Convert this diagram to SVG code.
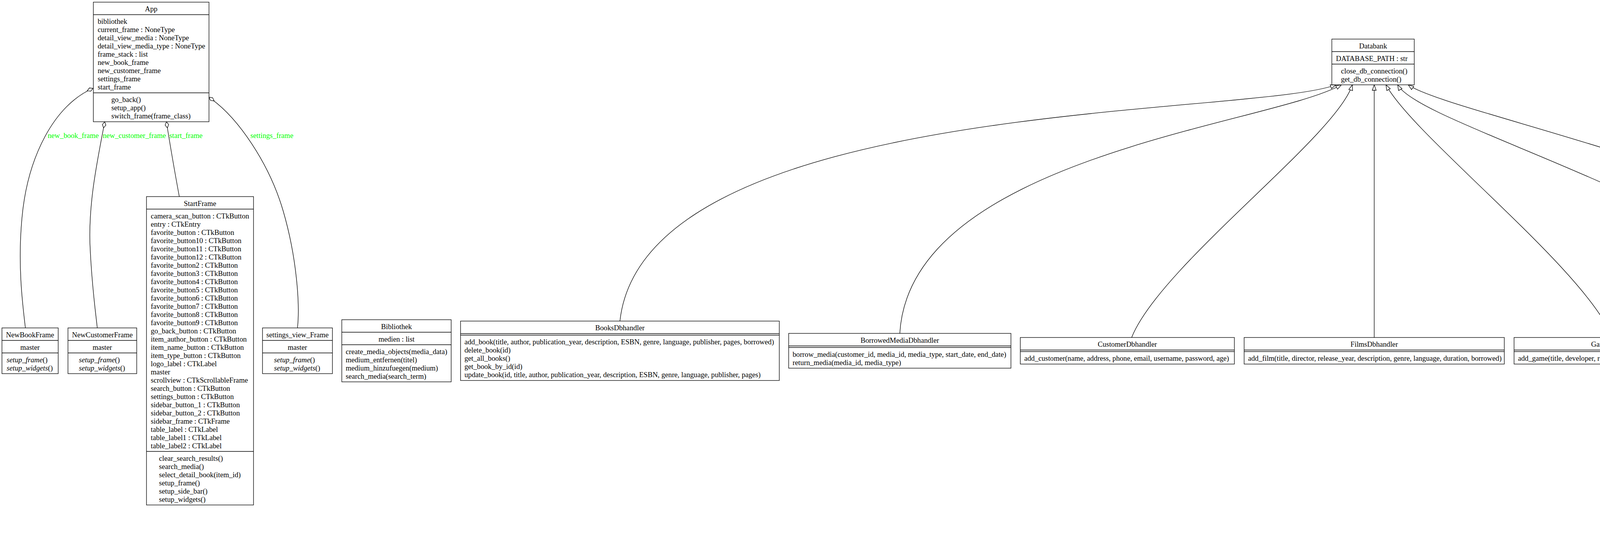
<svg xmlns="http://www.w3.org/2000/svg" width="6336" height="1420" viewBox="0 0 6336 1420">
<style>
.n{fill:#fff;stroke:#000;stroke-width:1.33}
.d{stroke:#000;stroke-width:1.33}
.t{font-family:"Liberation Serif","Times New Roman",serif;font-size:18.67px;fill:#000}
.h{text-anchor:middle}
.i{font-style:italic}
.e{fill:none;stroke:#000;stroke-width:1.33}
.l{font-family:"Liberation Serif","Times New Roman",serif;font-size:18.67px;fill:#00ff00;text-anchor:middle}
</style>
<defs>
<marker id="tri" markerUnits="userSpaceOnUse" markerWidth="16" markerHeight="12" refX="14" refY="5" orient="auto" overflow="visible"><path d="M0,0 L14,5 L0,10 z" fill="#fff" stroke="#000" stroke-width="1.33"/></marker>
<marker id="dia" markerUnits="userSpaceOnUse" markerWidth="20" markerHeight="12" refX="0" refY="4.5" orient="auto" overflow="visible"><path d="M0,4.5 L8,0 L16,4.5 L8,9 z" fill="#fff" stroke="#000" stroke-width="1.33"/></marker>
</defs>
<rect x="0" y="0" width="6336" height="1420" fill="#fff"/>

<g id="edges">
<path class="e" marker-start="url(#dia)" d="M238,226 C140,268 70,400 56,560 C45,680 58,780 65,839"/>
<path class="e" marker-start="url(#dia)" d="M268,311.5 C252,400 224,520 231,640 C236,740 245,800 249,839"/>
<path class="e" marker-start="url(#dia)" d="M426,311.5 Q440,400 459,503"/>
<path class="e" marker-start="url(#dia)" d="M535,249 C610,300 690,420 725,540 C760,660 768,780 761.5,839"/>
<text class="l" x="187.5" y="353">new_book_frame</text>
<text class="l" x="344" y="353">new_customer_frame</text>
<text class="l" x="476" y="353">start_frame</text>
<text class="l" x="696" y="353">settings_frame</text>
<path class="e" marker-end="url(#tri)" d="M1587,821.5 C1650,250 3200,300 3420,217"/>
<path class="e" marker-end="url(#tri)" d="M2303.5,853 C2330,400 3250,320 3434,217"/>
<path class="e" marker-end="url(#tri)" d="M2897,863.5 C2970,680 3420,350 3462,217"/>
<path class="e" marker-end="url(#tri)" d="M3518,863.5 L3518,217"/>
<path class="e" marker-end="url(#tri)" d="M4128,863.5 C4060,690 3620,350 3548,217"/>
<path class="e" marker-end="url(#tri)" d="M4583,853 C4575,560 3640,330 3578,217"/>
<path class="e" marker-end="url(#tri)" d="M4908,853 C4900,520 3720,300 3605,217"/>
<path class="e" marker-end="url(#tri)" d="M5172.5,828.5 C5185,600 5300,420 5318,301"/>
<path class="e" marker-end="url(#tri)" d="M5387,818 L5387,301"/>
<path class="e" marker-end="url(#tri)" d="M5608.5,828.5 C5600,600 5475,420 5458,301"/>
</g>

<g id="App">
<rect class="n" x="239" y="5.5" width="296" height="306"/>
<line class="d" x1="239" y1="37.5" x2="535" y2="37.5"/>
<line class="d" x1="239" y1="237.5" x2="535" y2="237.5"/>
<text class="t h" x="387" y="29">App</text>
<text class="t" x="250" y="61"><tspan x="250">bibliothek</tspan><tspan x="250" dy="21">current_frame : NoneType</tspan><tspan x="250" dy="21">detail_view_media : NoneType</tspan><tspan x="250" dy="21">detail_view_media_type : NoneType</tspan><tspan x="250" dy="21">frame_stack : list</tspan><tspan x="250" dy="21">new_book_frame</tspan><tspan x="250" dy="21">new_customer_frame</tspan><tspan x="250" dy="21">settings_frame</tspan><tspan x="250" dy="21">start_frame</tspan></text>
<text class="t" x="285" y="261"><tspan x="285">go_back()</tspan><tspan x="285" dy="21">setup_app()</tspan><tspan x="285" dy="21">switch_frame(frame_class)</tspan></text>
</g>

<g id="Databank">
<rect class="n" x="3409.5" y="100" width="211" height="117"/>
<line class="d" x1="3409.5" y1="132" x2="3620.5" y2="132"/>
<line class="d" x1="3409.5" y1="164" x2="3620.5" y2="164"/>
<text class="t h" x="3515" y="123.5">Databank</text>
<text class="t" x="3420" y="155.5">DATABASE_PATH : str</text>
<text class="t" x="3433" y="187.5"><tspan x="3433">close_db_connection()</tspan><tspan x="3433" dy="21">get_db_connection()</tspan></text>
</g>

<g id="Medien">
<rect class="n" x="5251" y="16" width="273" height="285"/>
<line class="d" x1="5251" y1="48" x2="5524" y2="48"/>
<line class="d" x1="5251" y1="248" x2="5524" y2="248"/>
<text class="t h" x="5387.5" y="39.5">Medien</text>
<text class="t" x="5262" y="71.5"><tspan x="5262">autor_oder_regisseur : NoneType</tspan><tspan x="5262" dy="21">borrowed : NoneType, bool</tspan><tspan x="5262" dy="21">category : NoneType</tspan><tspan x="5262" dy="21">description : NoneType</tspan><tspan x="5262" dy="21">genre : NoneType</tspan><tspan x="5262" dy="21">id</tspan><tspan x="5262" dy="21">language : NoneType</tspan><tspan x="5262" dy="21">publication_year : NoneType</tspan><tspan x="5262" dy="21">titel</tspan></text>
<text class="t" x="5329" y="271.5"><tspan x="5329">ausleihen()</tspan><tspan x="5329" dy="21">zurueckgeben()</tspan></text>
</g>

<g id="NewBookFrame">
<rect class="n" x="5" y="839" width="144" height="117"/>
<line class="d" x1="5" y1="871" x2="149" y2="871"/>
<line class="d" x1="5" y1="903" x2="149" y2="903"/>
<text class="t h" x="77" y="862.5">NewBookFrame</text>
<text class="t" x="52" y="894.5">master</text>
<text class="t" x="17" y="926.5"><tspan class="i">setup_frame</tspan>()</text>
<text class="t" x="17" y="947.5"><tspan class="i">setup_widgets</tspan>()</text>
</g>

<g id="NewCustomerFrame">
<rect class="n" x="174" y="839" width="176" height="117"/>
<line class="d" x1="174" y1="871" x2="350" y2="871"/>
<line class="d" x1="174" y1="903" x2="350" y2="903"/>
<text class="t h" x="262" y="862.5">NewCustomerFrame</text>
<text class="t" x="237" y="894.5">master</text>
<text class="t" x="202" y="926.5"><tspan class="i">setup_frame</tspan>()</text>
<text class="t" x="202" y="947.5"><tspan class="i">setup_widgets</tspan>()</text>
</g>

<g id="StartFrame">
<rect class="n" x="375" y="503" width="274" height="789"/>
<line class="d" x1="375" y1="535" x2="649" y2="535"/>
<line class="d" x1="375" y1="1155" x2="649" y2="1155"/>
<text class="t h" x="512" y="526.5">StartFrame</text>
<text class="t" x="386" y="558.5"><tspan x="386">camera_scan_button : CTkButton</tspan><tspan x="386" dy="21">entry : CTkEntry</tspan><tspan x="386" dy="21">favorite_button : CTkButton</tspan><tspan x="386" dy="21">favorite_button10 : CTkButton</tspan><tspan x="386" dy="21">favorite_button11 : CTkButton</tspan><tspan x="386" dy="21">favorite_button12 : CTkButton</tspan><tspan x="386" dy="21">favorite_button2 : CTkButton</tspan><tspan x="386" dy="21">favorite_button3 : CTkButton</tspan><tspan x="386" dy="21">favorite_button4 : CTkButton</tspan><tspan x="386" dy="21">favorite_button5 : CTkButton</tspan><tspan x="386" dy="21">favorite_button6 : CTkButton</tspan><tspan x="386" dy="21">favorite_button7 : CTkButton</tspan><tspan x="386" dy="21">favorite_button8 : CTkButton</tspan><tspan x="386" dy="21">favorite_button9 : CTkButton</tspan><tspan x="386" dy="21">go_back_button : CTkButton</tspan><tspan x="386" dy="21">item_author_button : CTkButton</tspan><tspan x="386" dy="21">item_name_button : CTkButton</tspan><tspan x="386" dy="21">item_type_button : CTkButton</tspan><tspan x="386" dy="21">logo_label : CTkLabel</tspan><tspan x="386" dy="21">master</tspan><tspan x="386" dy="21">scrollview : CTkScrollableFrame</tspan><tspan x="386" dy="21">search_button : CTkButton</tspan><tspan x="386" dy="21">settings_button : CTkButton</tspan><tspan x="386" dy="21">sidebar_button_1 : CTkButton</tspan><tspan x="386" dy="21">sidebar_button_2 : CTkButton</tspan><tspan x="386" dy="21">sidebar_frame : CTkFrame</tspan><tspan x="386" dy="21">table_label : CTkLabel</tspan><tspan x="386" dy="21">table_label1 : CTkLabel</tspan><tspan x="386" dy="21">table_label2 : CTkLabel</tspan></text>
<text class="t" x="407" y="1178.5"><tspan x="407">clear_search_results()</tspan><tspan x="407" dy="21">search_media()</tspan><tspan x="407" dy="21">select_detail_book(item_id)</tspan><tspan x="407" dy="21">setup_frame()</tspan><tspan x="407" dy="21">setup_side_bar()</tspan><tspan x="407" dy="21">setup_widgets()</tspan></text>
</g>

<g id="settings_view_Frame">
<rect class="n" x="672" y="839" width="179" height="117"/>
<line class="d" x1="672" y1="871" x2="851" y2="871"/>
<line class="d" x1="672" y1="903" x2="851" y2="903"/>
<text class="t h" x="761.5" y="862.5">settings_view_Frame</text>
<text class="t" x="736.5" y="894.5">master</text>
<text class="t" x="701.5" y="926.5"><tspan class="i">setup_frame</tspan>()</text>
<text class="t" x="701.5" y="947.5"><tspan class="i">setup_widgets</tspan>()</text>
</g>

<g id="Bibliothek">
<rect class="n" x="875" y="818" width="280" height="159"/>
<line class="d" x1="875" y1="850" x2="1155" y2="850"/>
<line class="d" x1="875" y1="882" x2="1155" y2="882"/>
<text class="t h" x="1015" y="841.5">Bibliothek</text>
<text class="t" x="969" y="873.5">medien : list</text>
<text class="t" x="885" y="905.5"><tspan x="885">create_media_objects(media_data)</tspan><tspan x="885" dy="21">medium_entfernen(titel)</tspan><tspan x="885" dy="21">medium_hinzufuegen(medium)</tspan><tspan x="885" dy="21">search_media(search_term)</tspan></text>
</g>

<g id="BooksDbhandler">
<rect class="n" x="1179" y="821.5" width="816" height="152"/>
<line class="d" x1="1179" y1="853.5" x2="1995" y2="853.5"/>
<line class="d" x1="1179" y1="857.5" x2="1995" y2="857.5"/>
<text class="t h" x="1587" y="845">BooksDbhandler</text>
<text class="t" x="1189" y="881"><tspan x="1189">add_book(title, author, publication_year, description, ESBN, genre, language, publisher, pages, borrowed)</tspan><tspan x="1189" dy="21">delete_book(id)</tspan><tspan x="1189" dy="21">get_all_books()</tspan><tspan x="1189" dy="21">get_book_by_id(id)</tspan><tspan x="1189" dy="21">update_book(id, title, author, publication_year, description, ESBN, genre, language, publisher, pages)</tspan></text>
</g>

<g id="BorrowedMediaDbhandler">
<rect class="n" x="2019" y="853" width="569" height="89"/>
<line class="d" x1="2019" y1="885" x2="2588" y2="885"/>
<line class="d" x1="2019" y1="889" x2="2588" y2="889"/>
<text class="t h" x="2303.5" y="876.5">BorrowedMediaDbhandler</text>
<text class="t" x="2029" y="912.5"><tspan x="2029">borrow_media(customer_id, media_id, media_type, start_date, end_date)</tspan><tspan x="2029" dy="21">return_media(media_id, media_type)</tspan></text>
</g>

<g id="CustomerDbhandler">
<rect class="n" x="2612" y="863.5" width="548" height="68"/>
<line class="d" x1="2612" y1="895.5" x2="3160" y2="895.5"/>
<line class="d" x1="2612" y1="899.5" x2="3160" y2="899.5"/>
<text class="t h" x="2886" y="887">CustomerDbhandler</text>
<text class="t" x="2622" y="923">add_customer(name, address, phone, email, username, password, age)</text>
</g>

<g id="FilmsDbhandler">
<rect class="n" x="3185" y="863.5" width="666" height="68"/>
<line class="d" x1="3185" y1="895.5" x2="3851" y2="895.5"/>
<line class="d" x1="3185" y1="899.5" x2="3851" y2="899.5"/>
<text class="t h" x="3518" y="887">FilmsDbhandler</text>
<text class="t" x="3195" y="923">add_film(title, director, release_year, description, genre, language, duration, borrowed)</text>
</g>

<g id="GamesDbhandler">
<rect class="n" x="3876" y="863.5" width="525" height="68"/>
<line class="d" x1="3876" y1="895.5" x2="4401" y2="895.5"/>
<line class="d" x1="3876" y1="899.5" x2="4401" y2="899.5"/>
<text class="t h" x="4138.5" y="887">GamesDbhandler</text>
<text class="t" x="3886" y="923">add_game(title, developer, release_year, genre, platform, borrowed)</text>
</g>

<g id="MediaDbhandler">
<rect class="n" x="4426" y="853" width="315" height="89"/>
<line class="d" x1="4426" y1="885" x2="4741" y2="885"/>
<line class="d" x1="4426" y1="889" x2="4741" y2="889"/>
<text class="t h" x="4583.5" y="876.5">MediaDbhandler</text>
<text class="t" x="4436" y="912.5"><tspan x="4436">get_all_media()</tspan><tspan x="4436" dy="21">search_engine_for_media(search_term)</tspan></text>
</g>

<g id="UsersDbhandler">
<rect class="n" x="4765" y="853" width="279" height="89"/>
<line class="d" x1="4765" y1="885" x2="5044" y2="885"/>
<line class="d" x1="4765" y1="889" x2="5044" y2="889"/>
<text class="t h" x="4904.5" y="876.5">UsersDbhandler</text>
<text class="t" x="4775" y="912.5"><tspan x="4775">add_user(username, password)</tspan><tspan x="4775" dy="21">validate_user(username, password)</tspan></text>
</g>

<g id="Buch">
<rect class="n" x="5069" y="828.5" width="207" height="138"/>
<line class="d" x1="5069" y1="860.5" x2="5276" y2="860.5"/>
<line class="d" x1="5069" y1="934.5" x2="5276" y2="934.5"/>
<text class="t h" x="5172.5" y="852">Buch</text>
<text class="t" x="5138" y="884"><tspan x="5138">ESBN</tspan><tspan x="5138" dy="21">pages</tspan><tspan x="5138" dy="21">publisher</tspan></text>
<text class="t" x="5079" y="958">calculate_reading_time()</text>
</g>

<g id="Film">
<rect class="n" x="5299" y="818" width="176" height="159"/>
<line class="d" x1="5299" y1="850" x2="5475" y2="850"/>
<line class="d" x1="5299" y1="924" x2="5475" y2="924"/>
<text class="t h" x="5387" y="841.5">Film</text>
<text class="t" x="5310" y="873.5"><tspan x="5310">actors : NoneType</tspan><tspan x="5310" dy="21">duration : NoneType</tspan><tspan x="5310" dy="21">helpers : NoneType</tspan></text>
<text class="t" x="5338" y="947.5"><tspan x="5338">creditslist()</tspan><tspan x="5338" dy="21">printcredits()</tspan></text>
</g>

<g id="Spiel">
<rect class="n" x="5499" y="828.5" width="219" height="138"/>
<line class="d" x1="5499" y1="860.5" x2="5718" y2="860.5"/>
<line class="d" x1="5499" y1="934.5" x2="5718" y2="934.5"/>
<text class="t h" x="5608.5" y="852">Spiel</text>
<text class="t" x="5542" y="884"><tspan x="5542">average_playtime</tspan><tspan x="5542" dy="21">multiplayer</tspan><tspan x="5542" dy="21">platform</tspan></text>
<text class="t" x="5509" y="958">getrecommendedpcspecs()</text>
</g>

<g id="DetailsFrame">
<rect class="n" x="5747" y="377" width="340" height="1041"/>
<line class="d" x1="5747" y1="409" x2="6087" y2="409"/>
<line class="d" x1="5747" y1="1344" x2="6087" y2="1344"/>
<text class="t h" x="5917" y="400.5">DetailsFrame</text>
<text class="t" x="5758" y="432.5"><tspan x="5758">favorite_button : CTkButton</tspan><tspan x="5758" dy="21">favorite_button10 : CTkButton</tspan><tspan x="5758" dy="21">favorite_button11 : CTkButton</tspan><tspan x="5758" dy="21">favorite_button12 : CTkButton</tspan><tspan x="5758" dy="21">favorite_button2 : CTkButton</tspan><tspan x="5758" dy="21">favorite_button3 : CTkButton</tspan><tspan x="5758" dy="21">favorite_button4 : CTkButton</tspan><tspan x="5758" dy="21">favorite_button5 : CTkButton</tspan><tspan x="5758" dy="21">favorite_button6 : CTkButton</tspan><tspan x="5758" dy="21">favorite_button7 : CTkButton</tspan><tspan x="5758" dy="21">favorite_button8 : CTkButton</tspan><tspan x="5758" dy="21">favorite_button9 : CTkButton</tspan><tspan x="5758" dy="21">frame_title : CTkLabel</tspan><tspan x="5758" dy="21">go_back_button : CTkButton</tspan><tspan x="5758" dy="21">logo_label : CTkLabel</tspan><tspan x="5758" dy="21">master</tspan><tspan x="5758" dy="21">overview_spaceholder : CTkLabel</tspan><tspan x="5758" dy="21">overview_spaceholder1 : CTkLabel</tspan><tspan x="5758" dy="21">overview_spaceholder2 : CTkLabel</tspan><tspan x="5758" dy="21">overview_spaceholder3 : CTkLabel</tspan><tspan x="5758" dy="21">overview_spaceholder4 : CTkLabel</tspan><tspan x="5758" dy="21">overview_tab_author : CTkLabel</tspan><tspan x="5758" dy="21">overview_tab_author_info : CTkLabel</tspan><tspan x="5758" dy="21">overview_tab_bookname : CTkLabel</tspan><tspan x="5758" dy="21">overview_tab_bookname_info : CTkLabel</tspan><tspan x="5758" dy="21">overview_tab_genre : CTkLabel</tspan><tspan x="5758" dy="21">overview_tab_genre_info : CTkLabel</tspan><tspan x="5758" dy="21">overview_tab_isbn : CTkLabel</tspan><tspan x="5758" dy="21">overview_tab_isbn_info : CTkLabel</tspan><tspan x="5758" dy="21">overview_tab_language : CTkLabel</tspan><tspan x="5758" dy="21">overview_tab_language_info : CTkLabel</tspan><tspan x="5758" dy="21">overview_tab_pages : CTkLabel</tspan><tspan x="5758" dy="21">overview_tab_pages_info : CTkLabel</tspan><tspan x="5758" dy="21">overview_tab_publisher : CTkLabel</tspan><tspan x="5758" dy="21">overview_tab_publisher_info : CTkLabel</tspan><tspan x="5758" dy="21">overview_tab_year : CTkLabel</tspan><tspan x="5758" dy="21">overview_tab_year_info : CTkLabel</tspan><tspan x="5758" dy="21">settings_button : CTkButton</tspan><tspan x="5758" dy="21">sidebar_button_1 : CTkButton</tspan><tspan x="5758" dy="21">sidebar_button_2 : CTkButton</tspan><tspan x="5758" dy="21">sidebar_frame : CTkFrame</tspan><tspan x="5758" dy="21">tabview : CTkTabview</tspan><tspan x="5758" dy="21">zusammenfassung_tab_label : CTkLabel</tspan><tspan x="5758" dy="21">zusammenfassung_tab_text : CTkTextbox</tspan></text>
<text class="t" x="5857" y="1367.5"><tspan class="i">open_settings</tspan>()</text>
<text class="t" x="5857" y="1388.5">setup_frame()</text>
<text class="t" x="5857" y="1409.5">setup_widgets()</text>
</g>

<g id="LoginFrame">
<rect class="n" x="6111" y="807.5" width="223" height="180"/>
<line class="d" x1="6111" y1="839.5" x2="6334" y2="839.5"/>
<line class="d" x1="6111" y1="913.5" x2="6334" y2="913.5"/>
<text class="t h" x="6222.5" y="831">LoginFrame</text>
<text class="t" x="6136" y="863"><tspan x="6136">error_label : CTkLabel</tspan><tspan x="6136" dy="21">frame : CTkFrame</tspan><tspan x="6136" dy="21">master</tspan></text>
<text class="t" x="6122" y="937"><tspan x="6122">login(username, password)</tspan><tspan x="6122" dy="21">setup_frame()</tspan><tspan x="6122" dy="21">setup_widgets()</tspan></text>
</g>
</svg>
